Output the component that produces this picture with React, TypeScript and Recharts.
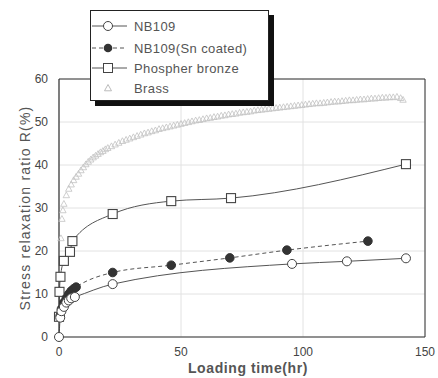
import React from 'react';
import { ComposedChart, Line, Scatter, XAxis, YAxis, CartesianGrid } from 'recharts';

const xTicks = [0, 50, 100, 150];
const yTicks = [0, 10, 20, 30, 40, 50, 60];
const yMinorTicks = [0, 5, 10, 15, 20, 25, 30, 35, 40, 45, 50, 55, 60];
const xMinorTicks = [0, 25, 50, 75, 100, 125, 150];

const nb109 = [
  { x: 0, y: 0 }, { x: 0.5, y: 4.5 }, { x: 1, y: 6 }, { x: 2, y: 7 }, { x: 3, y: 8 },
  { x: 4, y: 8.5 }, { x: 5, y: 9 }, { x: 6.5, y: 9.3 }, { x: 22, y: 12.3 },
  { x: 95.5, y: 17 }, { x: 118, y: 17.6 }, { x: 142.2, y: 18.3 },
];
const nb109Sn = [
  { x: 0.5, y: 5 }, { x: 1, y: 6.5 }, { x: 2, y: 8 }, { x: 3, y: 9 }, { x: 4, y: 10 },
  { x: 5, y: 10.7 }, { x: 6, y: 11.2 }, { x: 7, y: 11.6 }, { x: 22, y: 15 },
  { x: 46, y: 16.7 }, { x: 70, y: 18.4 }, { x: 93.4, y: 20.2 }, { x: 126.6, y: 22.3 },
];
const bronze = [
  { x: 0, y: 4.7 }, { x: 0.2, y: 10.5 }, { x: 0.6, y: 14 }, { x: 2, y: 17.7 },
  { x: 4.5, y: 19.8 }, { x: 5.5, y: 22.3 }, { x: 22, y: 28.6 }, { x: 46, y: 31.6 },
  { x: 70.5, y: 32.3 }, { x: 142.2, y: 40.2 },
];
const brass = [
  { x: 0, y: 0 }, { x: 0.4, y: 14 }, { x: 0.8, y: 23 }, { x: 1.2, y: 27.5 }, { x: 1.6, y: 29.5 },
  { x: 2, y: 31 }, { x: 3, y: 33 }, { x: 4, y: 34.5 }, { x: 5, y: 35.5 }, { x: 6, y: 36.5 },
  { x: 7, y: 37.3 }, { x: 8, y: 38 }, { x: 9, y: 38.8 }, { x: 10, y: 39.5 }, { x: 11, y: 40.2 },
  { x: 12, y: 40.8 }, { x: 13, y: 41.3 }, { x: 14, y: 41.8 }, { x: 15, y: 42.2 }, { x: 16, y: 42.6 },
  { x: 17, y: 43 }, { x: 18, y: 43.3 }, { x: 19, y: 43.7 }, { x: 20, y: 44 }, { x: 21.5, y: 44.4 },
  { x: 23, y: 44.8 }, { x: 24.5, y: 45.2 }, { x: 26, y: 45.6 }, { x: 27.5, y: 45.9 }, { x: 29, y: 46.2 },
  { x: 30.5, y: 46.5 }, { x: 32, y: 46.8 }, { x: 33.5, y: 47.1 }, { x: 35, y: 47.4 }, { x: 36.5, y: 47.6 },
  { x: 38, y: 47.9 }, { x: 39.5, y: 48.1 }, { x: 41, y: 48.4 }, { x: 42.5, y: 48.6 }, { x: 44, y: 48.8 },
  { x: 45.5, y: 49 }, { x: 47, y: 49.2 }, { x: 48.5, y: 49.4 }, { x: 50, y: 49.6 }, { x: 51.5, y: 49.8 },
  { x: 53, y: 50 }, { x: 54.5, y: 50.2 }, { x: 56, y: 50.4 }, { x: 57.5, y: 50.5 }, { x: 59, y: 50.7 },
  { x: 60.5, y: 50.9 }, { x: 62, y: 51 }, { x: 63.5, y: 51.2 }, { x: 65, y: 51.3 }, { x: 66.5, y: 51.5 },
  { x: 68, y: 51.6 }, { x: 69.5, y: 51.8 }, { x: 71, y: 51.9 }, { x: 72.5, y: 52 }, { x: 74, y: 52.2 },
  { x: 75.5, y: 52.3 }, { x: 77, y: 52.4 }, { x: 78.5, y: 52.5 }, { x: 80, y: 52.7 }, { x: 81.5, y: 52.8 },
  { x: 83, y: 52.9 }, { x: 84.5, y: 53 }, { x: 86, y: 53.1 }, { x: 87.5, y: 53.2 }, { x: 89, y: 53.3 },
  { x: 90.5, y: 53.4 }, { x: 92, y: 53.5 }, { x: 93.5, y: 53.6 }, { x: 95, y: 53.7 }, { x: 96.5, y: 53.8 },
  { x: 98, y: 53.9 }, { x: 99.5, y: 54 }, { x: 101, y: 54.1 }, { x: 102.5, y: 54.2 }, { x: 104, y: 54.3 },
  { x: 105.5, y: 54.4 }, { x: 107, y: 54.4 }, { x: 108.5, y: 54.5 }, { x: 110, y: 54.6 }, { x: 111.5, y: 54.7 },
  { x: 113, y: 54.8 }, { x: 114.5, y: 54.8 }, { x: 116, y: 54.9 }, { x: 117.5, y: 55 }, { x: 119, y: 55.1 },
  { x: 120.5, y: 55.1 }, { x: 122, y: 55.2 }, { x: 123.5, y: 55.3 }, { x: 125, y: 55.3 }, { x: 126.5, y: 55.4 },
  { x: 128, y: 55.5 }, { x: 129.5, y: 55.5 }, { x: 131, y: 55.6 }, { x: 132.5, y: 55.7 }, { x: 134, y: 55.7 },
  { x: 135.5, y: 55.8 }, { x: 137, y: 55.8 }, { x: 138.5, y: 55.9 }, { x: 140, y: 55.6 }, { x: 141, y: 55.2 },
];

const seriesNames = ['NB109', 'NB109(Sn coated)', 'Phospher bronze', 'Brass'];

const FONT = '"Liberation Sans", Arial, sans-serif';
const LINE = '#555';
const AXIS = '#333';

const OpenCircle = (p: any) => {
  if (p.cx == null) return <g key={p.key} />;
  return <circle key={p.key} cx={p.cx} cy={p.cy} r={4.5} fill="#fff" stroke="#444" strokeWidth={1} />;
};
const FilledCircle = (p: any) => {
  if (p.cx == null) return <g key={p.key} />;
  return <circle key={p.key} cx={p.cx} cy={p.cy} r={4.3} fill="#333" stroke="#333" strokeWidth={1} />;
};
const OpenSquare = (p: any) => {
  if (p.cx == null) return <g key={p.key} />;
  return <rect key={p.key} x={p.cx - 4.5} y={p.cy - 4.5} width={9} height={9} fill="#fff" stroke="#444" strokeWidth={1.1} />;
};
const Triangle = (p: any) => {
  const { cx, cy } = p;
  return (
    <polygon
      points={`${cx},${cy - 3.2} ${cx - 3.2},${cy + 2.6} ${cx + 3.2},${cy + 2.6}`}
      fill="none"
      stroke="#c2c2c2"
      strokeWidth={0.8}
    />
  );
};

const LegendBox = () => {
  const rows = [15, 37, 57, 77];
  const textStyle = { fontFamily: FONT, fontSize: 13, fill: '#555', letterSpacing: 0.4 };
  return (
    <div
      style={{
        position: 'absolute',
        left: 90,
        top: 10,
        width: 179,
        height: 91,
        boxSizing: 'border-box',
        border: '1px solid #222',
        background: '#fff',
        boxShadow: '5px 5px 0 0 #111',
      }}
    >
      <svg width={177} height={89} style={{ display: 'block' }}>
        {rows.map((y, i) => (
          <g key={i}>
            {i < 3 && <line x1={1} x2={36} y1={y} y2={y} stroke={LINE} strokeWidth={1} strokeDasharray={i === 1 ? '4 3' : undefined} />}
            {i === 0 && <circle cx={17} cy={y} r={4.5} fill="#fff" stroke="#444" />}
            {i === 1 && <circle cx={17} cy={y} r={4.3} fill="#333" />}
            {i === 2 && <rect x={12.5} y={y - 4.5} width={9} height={9} fill="#fff" stroke="#444" />}
            {i === 3 && (
              <polygon points={`17,${y - 3.5} 13.5,${y + 2.8} 20.5,${y + 2.8}`} fill="none" stroke="#bbb" />
            )}
            <text x={43} y={y + 4.5} style={textStyle}>{seriesNames[i]}</text>
          </g>
        ))}
      </svg>
    </div>
  );
};

export default function App() {
  const tickStyle = { fontFamily: FONT, fontSize: 12, fill: '#444' };
  return (
    <div style={{ position: 'fixed', left: 0, top: 0, width: 438, height: 378, background: '#fff' }}>
      <ComposedChart width={438} height={378} margin={{ top: 79, right: 13, bottom: 0, left: 19 }}>
        <CartesianGrid stroke="#e2e2e2" strokeWidth={1} />
        <XAxis
          type="number"
          dataKey="x"
          domain={[0, 150]}
          ticks={xTicks}
          height={41}
          axisLine={{ stroke: AXIS, strokeWidth: 1.2 }}
          tickLine={false}
          tick={tickStyle}
          tickMargin={4}
          label={{ value: 'Loading time(hr)', position: 'insideBottom', offset: 5, dx: 6, style: { fontFamily: FONT, fontSize: 14, fontWeight: 'bold', fill: '#555', letterSpacing: 0.6 } }}
        />
        <XAxis xAxisId="bm" type="number" dataKey="x" domain={[0, 150]} ticks={xMinorTicks} mirror axisLine={false} tick={false} tickSize={4} tickLine={{ stroke: AXIS }} height={1} />
        <XAxis xAxisId="tm" orientation="top" type="number" dataKey="x" domain={[0, 150]} ticks={xMinorTicks} mirror axisLine={{ stroke: AXIS }} tick={false} tickSize={4} tickLine={{ stroke: AXIS }} height={1} />
        <YAxis
          type="number"
          domain={[0, 60]}
          ticks={yTicks}
          width={40}
          axisLine={{ stroke: AXIS, strokeWidth: 1.2 }}
          tickLine={false}
          tick={tickStyle}
          tickMargin={5}
          label={{ value: 'Stress relaxation ratio R(%)', angle: -90, position: 'insideLeft', offset: 6, style: { textAnchor: 'middle', fontFamily: FONT, fontSize: 14, fill: '#555', letterSpacing: 1.2 } }}
        />
        <YAxis yAxisId="lm" type="number" domain={[0, 60]} ticks={yMinorTicks} mirror axisLine={false} tick={false} tickSize={4} tickLine={{ stroke: AXIS }} width={1} />
        <YAxis yAxisId="rm" orientation="right" type="number" domain={[0, 60]} ticks={yMinorTicks} mirror axisLine={{ stroke: AXIS }} tick={false} tickSize={4} tickLine={{ stroke: AXIS }} width={1} />
        <Scatter name="Brass" data={brass} dataKey="y" shape={Triangle} isAnimationActive={false} />
        <Line name="Phospher bronze" data={bronze} dataKey="y" type="monotone" stroke={LINE} strokeWidth={1} dot={OpenSquare} activeDot={false} isAnimationActive={false} />
        <Line name="NB109(Sn coated)" data={nb109Sn} dataKey="y" type="monotone" stroke={LINE} strokeWidth={1} strokeDasharray="4 3" dot={FilledCircle} activeDot={false} isAnimationActive={false} />
        <Line name="NB109" data={nb109} dataKey="y" type="monotone" stroke={LINE} strokeWidth={1} dot={OpenCircle} activeDot={false} isAnimationActive={false} />
      </ComposedChart>
      <LegendBox />
    </div>
  );
}
